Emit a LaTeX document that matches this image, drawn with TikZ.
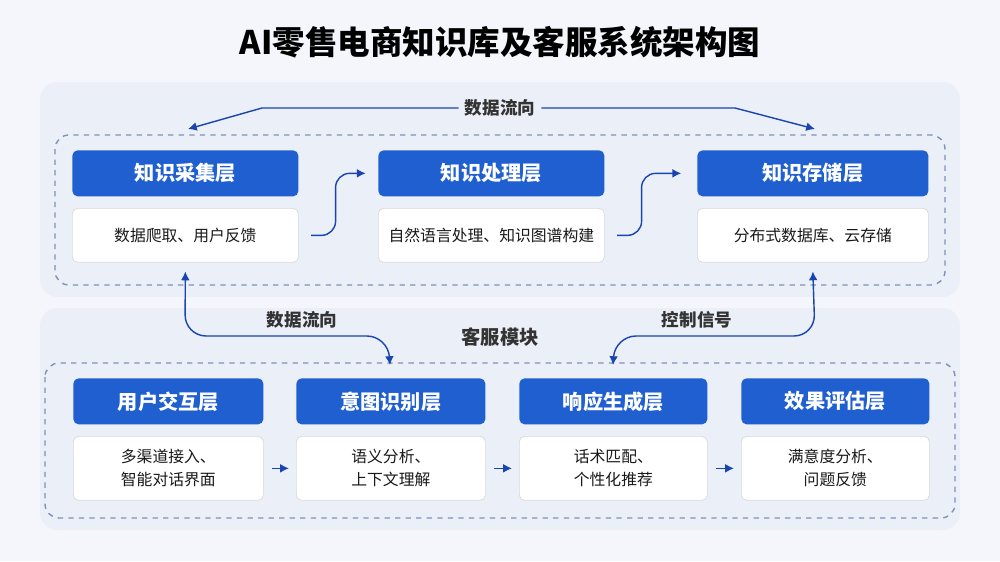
\documentclass[tikz,border=0pt]{standalone}
\usepackage{fontspec}
\setmainfont{Noto Sans CJK SC}
\usetikzlibrary{positioning,arrows.meta}
\definecolor{hdblue}{HTML}{1F5FD0}
\definecolor{arblue}{HTML}{1A45B0}
\definecolor{panel}{HTML}{EAEFF8}
\definecolor{bgc}{HTML}{F4F6FB}
\definecolor{dashc}{HTML}{7F92B8}
\begin{document}
\begin{tikzpicture}[x=0.02cm,y=-0.02cm,
  head/.style={rectangle, fill=hdblue, rounded corners=3pt, text=white,
               font=\fontsize{11.5}{13}\selectfont\bfseries, inner sep=0pt},
  body/.style={rectangle, draw=black!15, fill=white, rounded corners=3pt,
               font=\fontsize{9}{13}\selectfont, text=black!90, align=center, inner sep=0pt},
  lbl/.style={font=\fontsize{10}{12}\selectfont\bfseries, text=black!80},
  arr/.style={-{Latex[length=5pt,width=5pt]}, thick, draw=arblue, rounded corners=8pt},
  darr/.style={{Latex[length=5pt,width=5pt]}-{Latex[length=5pt,width=5pt]}, thick, draw=arblue, rounded corners=12pt},
  dbox/.style={draw=dashc, dashed, rounded corners=8pt, thick}]
  \fill[bgc] (0,0) rectangle (1000,561);
  \node[font=\fontsize{18.5}{22}\selectfont\bfseries] (title) at (500,42) {AI零售电商知识库及客服系统架构图};
  % upper panel
  \fill[panel, rounded corners=10pt] (40,82) rectangle (960,297);
  \draw[dbox] (55,135) rectangle (945,285);
  \node[lbl] (flow) at (500,108) {数据流向};
  \coordinate (tl) at (188,129);
  \coordinate (tr) at (815,129);
  \draw[arr, rounded corners=0pt] (flow.west) -- (262,108) -- (tl);
  \draw[arr, rounded corners=0pt] (flow.east) -- (735,108) -- (tr);
  \foreach \n/\x/\w/\h/\b in {c1/72/226/知识采集层/数据爬取、用户反馈,
                              c2/378/226/知识处理层/自然语言处理、知识图谱构建,
                              c3/697/231/知识存储层/分布式数据库、云存储} {
    \node[head, minimum width=\w*0.02cm, minimum height=0.92cm, anchor=north west] (\n h) at (\x,150) {\h};
    \node[body, minimum width=\w*0.02cm, minimum height=1.08cm, anchor=north west] (\n b) at (\x,208) {\b};
  }
  \draw[arr] ([xshift=7pt]c1b.east) -- ([xshift=21pt]c1b.east) |- ([xshift=-7pt]c2h.west);
  \draw[arr] ([xshift=7pt]c2b.east) -- ([xshift=21pt]c2b.east) |- ([xshift=-9pt]c3h.west);
  % lower panel
  \fill[panel, rounded corners=10pt] (40,308) rectangle (960,530);
  \draw[dbox] (45,363) rectangle (955,518);
  \node[lbl, font=\fontsize{11}{13}\selectfont\bfseries] (kf) at (500,337) {客服模块};
  \foreach \n/\x/\w/\h/\b in {s1/73/190/用户交互层/{多渠道接入、\\智能对话界面},
                              s2/296/189/意图识别层/{语义分析、\\上下文理解},
                              s3/519/188/响应生成层/{话术匹配、\\个性化推荐},
                              s4/741/188/效果评估层/{满意度分析、\\问题反馈}} {
    \node[head, minimum width=\w*0.02cm, minimum height=0.92cm, anchor=north west] (\n h) at (\x,378) {\h};
    \node[body, minimum width=\w*0.02cm, minimum height=1.28cm, anchor=north west] (\n b) at (\x,436) {\b};
  }
  \foreach \a/\b in {s1/s2,s2/s3,s3/s4}
    \draw[arr] ([xshift=5pt]\a b.east) -- ([xshift=-4pt]\b b.west);
  % cross links
  \coordinate (d1) at (390,365);
  \coordinate (d2) at (613,365);
  \draw[darr] ([yshift=-5pt]c1b.south) -- (185,336) -- (388,336) -- (d1);
  \draw[darr] ([yshift=-5pt]c3b.south) -- (815,336) -- (615,336) -- (d2);
  \node[lbl] (dl) at (302,320) {数据流向};
  \node[lbl] (cl) at (697,320) {控制信号};
\end{tikzpicture}
\end{document}
